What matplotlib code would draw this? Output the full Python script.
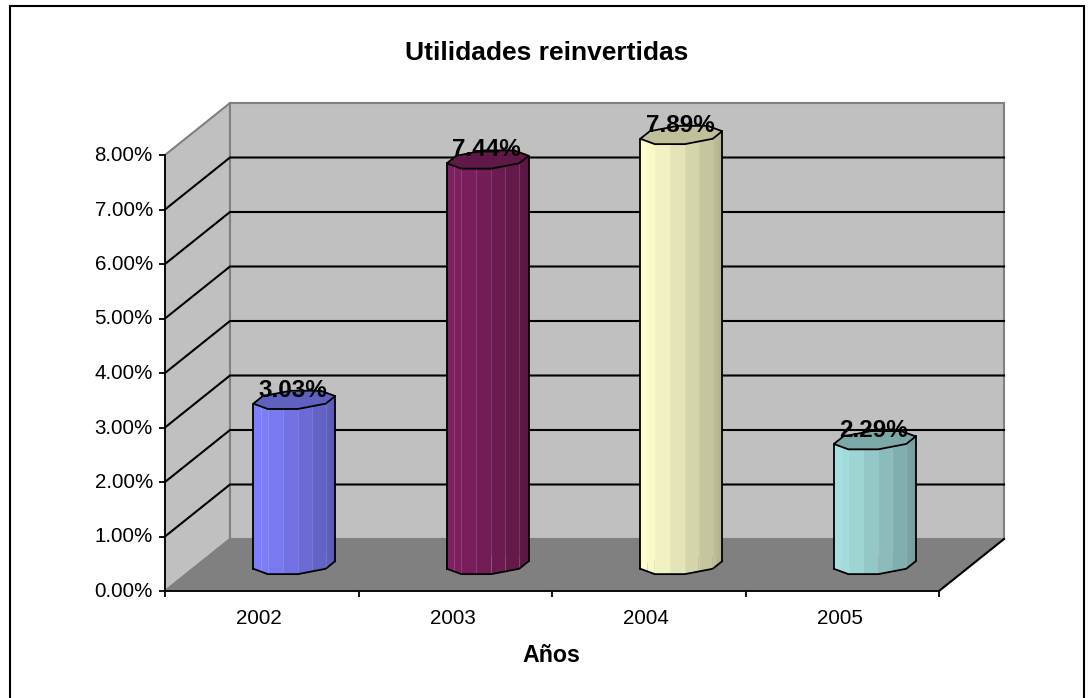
import numpy as np
import matplotlib
matplotlib.use('Agg')
import matplotlib.pyplot as plt
from matplotlib.patches import Rectangle, Polygon
from matplotlib.transforms import ScaledTranslation

plt.rcParams['font.family'] = ['Liberation Sans', 'DejaVu Sans']

# Data
years = ['2002', '2003', '2004', '2005']
values = [3.03, 7.44, 7.89, 2.29]
bar_colors = ['#8080FF', '#802060', '#FFFFCC', '#A6E0E0']
y_ticks = [0, 1, 2, 3, 4, 5, 6, 7, 8]

W, H = 1091, 698
fig = plt.figure(figsize=(W / 100, H / 100), dpi=100, facecolor='white')

# Outer chart frame, its bottom edge falls off the image
fig.add_artist(Rectangle((10 / W, -20 / H), 1074 / W, 712 / H, transform=fig.transFigure,
                         fill=False, edgecolor='black', linewidth=1.5))

# Axes sits on the front plane of the 3D box
ax = fig.add_axes([165 / W, 1 - 591 / H, 774 / W, 436 / H])
ax.set_xlim(0, 4)
ax.set_ylim(0, 8)
ax.patch.set_visible(False)

# Depth of the box, in data units
dx = 65 / (774 / 4)
dy = 52 / (436 / 8)
GRAY = '#808080'

# left wall, back wall, floor
ax.add_patch(Polygon([(0, 0), (dx, dy), (dx, 8 + dy), (0, 8)], closed=True, facecolor='#C0C0C0',
                     edgecolor=GRAY, linewidth=1.5, clip_on=False, zorder=1))
ax.add_patch(Polygon([(dx, dy), (4 + dx, dy), (4 + dx, 8 + dy), (dx, 8 + dy)], closed=True,
                     facecolor='#C0C0C0', edgecolor=GRAY, linewidth=1.5, clip_on=False, zorder=1))
ax.add_patch(Polygon([(0, 0), (4, 0), (4 + dx, dy), (dx, dy)], closed=True, facecolor=GRAY,
                     edgecolor=GRAY, linewidth=1, clip_on=False, zorder=2))
ax.plot([4, 4 + dx], [0, dy], color='black', lw=1.5, clip_on=False, zorder=3)

# gridlines on both walls
for v in y_ticks[1:-1]:
    ax.plot([0, dx, 4 + dx], [v, v + dy, v + dy], color='black', lw=1.5, clip_on=False, zorder=3,
            solid_joinstyle='miter')

# Cylinders: octagonal section on the floor, each side split in two stripes
ru, rd = 0.2025, 0.19
angles = np.radians(22.5 + 45 * np.arange(8))
for i, (val, col) in enumerate(zip(values, bar_colors)):
    cu, cd = i + 0.5, 0.5
    px = cu + ru * np.cos(angles) + dx * (cd + rd * np.sin(angles))
    py = dy * (cd + rd * np.sin(angles))
    base = np.array(matplotlib.colors.to_rgb(col))
    # split the octagon sides
    sx = np.column_stack([px, (px + np.roll(px, -1)) / 2]).ravel()
    sy = np.column_stack([py, (py + np.roll(py, -1)) / 2]).ravel()
    n = len(sx)
    left, right = np.argmin(px), np.argmax(px)
    order = sorted(range(n), key=lambda k: -(sy[k] + sy[(k + 1) % n]))
    for k in order:
        j = (k + 1) % n
        mid = ((sx[k] + sx[j]) / 2 - px.min()) / (px.max() - px.min())
        shade = 1.0 - 0.3 * mid ** 1.3
        ax.fill([sx[k], sx[j], sx[j], sx[k]], [sy[k], sy[j], sy[j] + val, sy[k] + val],
                color=base * shade, lw=0, clip_on=False, zorder=4)
    # lighter lines between the front stripes
    for k in range(n):
        if sx[k] > px.min() and sx[k] < px.max() and sy[k] < dy * cd:
            ax.plot([sx[k], sx[k]], [sy[k], sy[k] + val], color='white', alpha=0.15, lw=0.7,
                    clip_on=False, zorder=5)
    # outline: sides, lower edge and lid
    ax.plot([px[left], px[left]], [py[left], py[left] + val], color='black', lw=1.3, clip_on=False, zorder=6)
    ax.plot([px[right], px[right]], [py[right], py[right] + val], color='black', lw=1.3, clip_on=False, zorder=6)
    low = [(left + m) % 8 for m in range((right - left) % 8 + 1)]
    ax.plot(px[low], py[low], color='black', lw=1.3, clip_on=False, zorder=6, solid_capstyle='round')
    ax.add_patch(Polygon(np.column_stack([px, py + val]), closed=True, facecolor=base * 0.75,
                         edgecolor='black', linewidth=1.3, clip_on=False, zorder=6))
    ax.annotate('%.2f%%' % val, (cu + dx * cd, val + dy * cd), xytext=(-0.7, 7), textcoords='offset points',
                ha='center', va='center', fontsize=17.5, fontweight='bold', color='black',
                annotation_clip=False, zorder=7)

# Axes lines and tick labels
for s in ['top', 'right']:
    ax.spines[s].set_visible(False)
for s in ['left', 'bottom']:
    ax.spines[s].set_linewidth(1.3)
    ax.spines[s].set_zorder(8)
ax.set_yticks(y_ticks)
ax.set_yticklabels(['%.2f%%' % v for v in y_ticks], fontsize=14.8)
ax.set_xticks(range(5))
ax.set_xticklabels([])
ax.set_xticks(np.arange(len(years)) + 0.5, minor=True)
ax.set_xticklabels(years, minor=True, fontsize=14.8)
ax.tick_params(axis='y', length=4.5, width=1.3, pad=4.3)
ax.tick_params(axis='x', which='major', length=4.5, width=1.3)
ax.tick_params(axis='x', which='minor', length=0, pad=13)
up = ScaledTranslation(0, 1.5 / 100, fig.dpi_scale_trans)
for lab in ax.get_yticklabels():
    lab.set_transform(lab.get_transform() + up)
back = ScaledTranslation(-2.5 / 100, 0, fig.dpi_scale_trans)
for lab in ax.get_xticklabels(minor=True):
    lab.set_transform(lab.get_transform() + back)

fig.text(546.5 / W, 1 - 53 / H, 'Utilidades reinvertidas', ha='center', va='center', fontsize=19, fontweight='bold')
fig.text(551 / W, 1 - 656 / H, 'Años', ha='center', va='center', fontsize=16.7, fontweight='bold')

fig.savefig('out.png', dpi=100, facecolor='white')
